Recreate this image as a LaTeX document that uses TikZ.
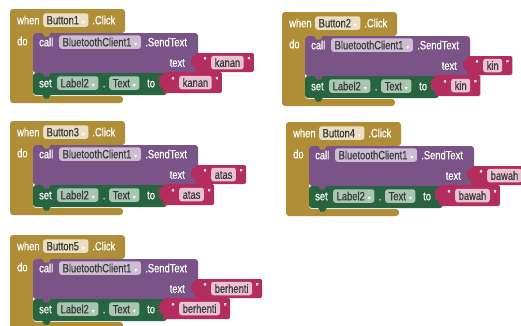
\documentclass[tikz,border=0pt]{standalone}
\usepackage{fontspec}
\setmainfont[FakeStretch=0.78,FakeBold=0.6]{Liberation Sans}
\newfontfamily\djv{DejaVu Sans}
\usetikzlibrary{calc}
\definecolor{evgold}{HTML}{B08D37}
\definecolor{goldpill}{HTML}{EADFC3}
\definecolor{mpurple}{HTML}{7A5487}
\definecolor{purppill}{HTML}{CDBED3}
\definecolor{sgreen}{HTML}{27643F}
\definecolor{greenpill}{HTML}{A8C6B2}
\definecolor{mag}{HTML}{B32D5E}
\definecolor{magpill}{HTML}{EAC2D1}
\definecolor{pilltext}{HTML}{3A3A3A}
\pgfdeclarelayer{blk}
\pgfdeclarelayer{val}
\pgfsetlayers{blk,val,main}
\tikzset{
  lbl/.style={text=white, inner sep=0pt, font=\fontsize{12}{14}\selectfont, text height=8.6pt, text depth=0pt, anchor=west},
  pill/.style={lbl, rounded corners=2.5pt, inner xsep=3.5pt, inner ysep=0pt, minimum height=13.5pt, text=pilltext},
  goldp/.style={pill, fill=goldpill},
  purpp/.style={pill, fill=purppill},
  greenp/.style={pill, fill=greenpill},
  magp/.style={pill, fill=magpill},
  quot/.style={text=white, inner sep=0pt, font=\fontsize{10}{10}\selectfont},
}
\newcommand{\dd}{\hspace{3pt}{\djv\fontsize{6}{6}\selectfont\textcolor{white}{▾}}}
\newcommand{\aiblock}[5]{%
\begin{scope}[shift={(#1,#2)}]
\begin{pgfonlayer}{blk}
\fill[evgold, rounded corners=3pt] (0,0) -- (115,0) -- (115,24) -- (23,24) -- (23,87) -- (113,87) -- (113,94) -- (0,94) -- cycle;
\fill[mpurple, rounded corners=3pt] (23,64) -- (23,24) -- (188,24) -- (188,64) -- cycle;
\fill[evgold] (32,23.5) -- (34.5,27.5) -- (38.5,27.5) -- (41,23.5) -- cycle;
\fill[sgreen, rounded corners=3pt] (23,64) -- (157,64) -- (157,86) -- (23,86) -- cycle;
\fill[mpurple] (32,63.5) -- (34.5,67.5) -- (38.5,67.5) -- (41,63.5) -- cycle;
\fill[sgreen] (32,85.5) -- (34.5,89.5) -- (38.5,89.5) -- (41,85.5) -- cycle;
\end{pgfonlayer}
\node[lbl] (#5when) at (7,11) {when};
\node[goldp] (#5btn) at (33,11) {Button#3\dd};
\node[lbl] (#5click) at ($(#5btn.east)+(3.5,0)$) {.Click};
\node[lbl] (#5do) at (7,32) {do};
\node[lbl] (#5call) at (29,33) {call};
\node[purpp] (#5bt) at (49,33) {BluetoothClient1\dd};
\node[lbl] (#5send) at ($(#5bt.east)+(4,0)$) {.SendText};
\node[lbl, anchor=east] (#5text) at (175,53.5) {text};
\node[magp] (#5tv) at (201,53.5) {#4};
\node[quot] (#5tqa) at ($(#5tv.west)+(-6,-2)$) {“};
\node[quot] (#5tqb) at ($(#5tv.east)+(5,-2)$) {”};
\node[lbl] (#5set) at (29,74) {set};
\node[greenp] (#5lab) at (47,74) {Label2\dd};
\node[lbl] (#5dot) at ($(#5lab.east)+(4,0)$) {.};
\node[greenp] (#5txt) at (99,74) {Text\dd};
\node[lbl] (#5to) at (137,74) {to};
\node[magp] (#5sv) at (169,73.5) {#4};
\node[quot] (#5sqa) at ($(#5sv.west)+(-6,-2)$) {“};
\node[quot] (#5sqb) at ($(#5sv.east)+(5,-2)$) {”};
\coordinate (#5tr) at ($(#5tv.east)+(10,0)$);
\coordinate (#5tT) at (185,44);
\coordinate (#5tB) at (185,63);
\coordinate (#5sr) at ($(#5sv.east)+(10,0)$);
\coordinate (#5sT) at (153,63);
\coordinate (#5sB) at (153,84);
\begin{pgfonlayer}{val}
\fill[mag, rounded corners=1.5pt] (185,44) -- (#5tr |- #5tT) -- (#5tr |- #5tB) -- (185,63) -- (185,57) -- (181,57) -- (181,48) -- (185,48) -- cycle;
\fill[mag, rounded corners=1.5pt] (153,63) -- (#5sr |- #5sT) -- (#5sr |- #5sB) -- (153,84) -- (153,78) -- (149,78) -- (149,67) -- (153,67) -- cycle;
\end{pgfonlayer}
\end{scope}}
\begin{document}
\begin{tikzpicture}[x=1pt,y=-1pt]
\begin{pgfonlayer}{blk}
\fill[white] (0,0) rectangle (521,325);
\end{pgfonlayer}
\useasboundingbox (0,0) rectangle (521,325);
\aiblock{10}{9}{1}{kanan}{a}
\aiblock{282}{12}{2}{kin}{b}
\aiblock{10}{121}{3}{atas}{c}
\aiblock{286}{122}{4}{bawah}{d}
\aiblock{10}{235}{5}{berhenti}{e}
\end{tikzpicture}
\end{document}
